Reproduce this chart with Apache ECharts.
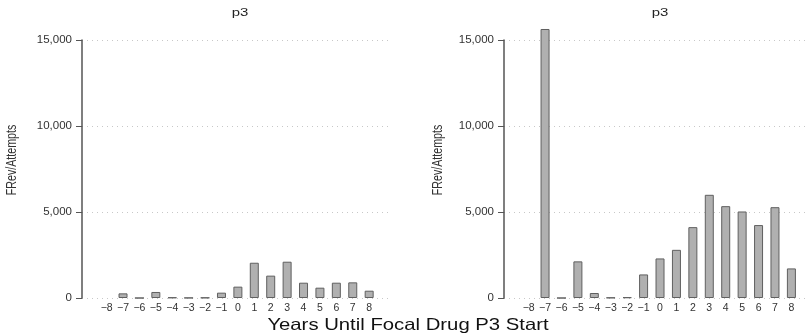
<!DOCTYPE html>
<html>
<head>
<meta charset="utf-8">
<script src="https://cdn.jsdelivr.net/npm/echarts@6/dist/echarts.min.js"></script>
<style>html,body{margin:0;padding:0;background:#fff}#c{width:810px;height:336px}</style>
</head>
<body>
<div id="c"></div>
<script>
const years = [-8,-7,-6,-5,-4,-3,-2,-1,0,1,2,3,4,5,6,7,8];
const leftValues  = [null, 270, 0, 350, 30, 10, 20, 310, 660, 2050, 1300, 2110, 890, 600, 890, 910, 425];
const rightValues = [null, 15640, 0, 2130, 290, 20, 40, 1370, 2300, 2800, 4120, 6000, 5340, 5030, 4240, 5280, 1720];
const yTicks = [0, 5000, 10000, 15000];
const panelTitle = 'p3';
const yName = 'FRev/Attempts';
const xName = 'Years Until Focal Drug P3 Start';

const chart = echarts.init(document.getElementById('c'), null, {renderer:'canvas'});
const font = 'Liberation Sans, Arial, Helvetica, sans-serif';

function xAxisFor(gi, max){
  return {
    type:'value', gridIndex:gi, min:-9.5, max:max, interval:0.5,
    axisLine:{show:false}, axisTick:{show:false}, splitLine:{show:false},
    axisLabel:{
      color:'#333', fontSize:10.5, fontFamily:font, margin:5,
      showMinLabel:true, showMaxLabel:true,
      formatter:function(v){
        if (Math.abs(v-Math.round(v))>1e-6) return '';
        const r=Math.round(v);
        if (years.indexOf(r)<0) return '';
        return r<0 ? '\u2212'+Math.abs(r) : String(r);
      }
    }
  };
}
function yAxisFor(gi){
  return {
    type:'value', gridIndex:gi, min:yTicks[0], max:yTicks[yTicks.length-1], interval:5000,
    position:'left',
    axisLine:{show:true, onZero:false, lineStyle:{color:'#555', width:1.5}},
    axisTick:{show:true, length:6, lineStyle:{color:'#555', width:1}},
    axisLabel:{color:'#333', fontSize:11.5, fontFamily:font, margin:10,
      formatter:function(v){return v.toLocaleString('en-US');}},
    splitLine:{show:true, lineStyle:{color:'#c8c8c8', type:[1,4], width:1}}
  };
}
function barSeries(gi, vals){
  return {
    type:'bar', xAxisIndex:gi, yAxisIndex:gi, clip:false, barWidth:9,
    data: years.map((y,i)=>[y, vals[i]]),
    itemStyle:{color:'#b0b0b0', borderColor:'#606060', borderWidth:1},
    silent:true
  };
}
function yNameText(x){
  return {type:'text', x:x, y:160, rotation:Math.PI/2, scaleX:0.82, scaleY:1.1,
    style:{text:yName, font:'13px ' + font, fill:'#333', textAlign:'center', textVerticalAlign:'middle'}};
}
function hText(txt, x, y, size, sx, color){
  return {type:'text', x:x, y:y, scaleX:sx,
    style:{text:txt, font:size+'px '+font, fill:color, textAlign:'center', textVerticalAlign:'middle'}};
}

chart.setOption({
  animation:false,
  graphic:[
    yNameText(12), yNameText(438),
    hText(panelTitle, 240, 13, 11.5, 1.3, '#222'),
    hText(panelTitle, 660, 13, 11.5, 1.3, '#222'),
    hText(xName, 408, 325, 16.5, 1.23, '#111')
  ],
  grid:[
    {left:82, top:40, width:308, height:258},
    {left:504, top:40, width:303, height:258}
  ],
  xAxis:[xAxisFor(0, 9.27), xAxisFor(1, 8.95)],
  yAxis:[yAxisFor(0), yAxisFor(1)],
  series:[barSeries(0, leftValues), barSeries(1, rightValues)]
});
</script>
</body>
</html>
